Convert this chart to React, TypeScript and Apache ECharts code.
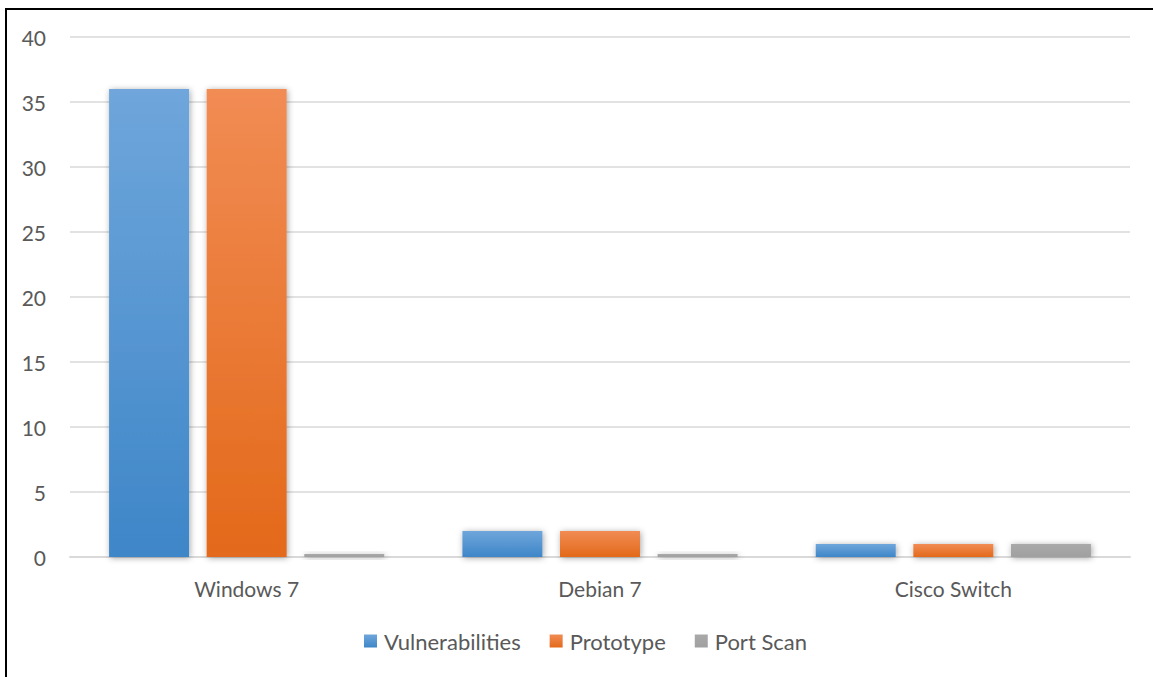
import React, { useEffect, useRef } from "react";
import * as echarts from "echarts";

const categories = ["Windows 7", "Debian 7", "Cisco Switch"];
const vulnerabilities = [36, 2, 1];
const prototype = [36, 2, 1];
const portScan = [0, 0, 1];
const seriesNames = ["Vulnerabilities", "Prototype", "Port Scan"];

const FONT = "Lato, 'Noto Sans', sans-serif";

function grad(top: string, bottom: string) {
  return new echarts.graphic.LinearGradient(0, 0, 0, 1, [
    { offset: 0, color: top },
    { offset: 1, color: bottom },
  ]);
}

export default function App() {
  const ref = useRef<HTMLDivElement>(null);
  useEffect(() => {
    if (!ref.current) return;
    const chart = echarts.init(ref.current, null, { renderer: "svg" });
    const shadow = {
      shadowColor: "rgba(0,0,0,0.35)",
      shadowBlur: 6,
      shadowOffsetX: 1,
      shadowOffsetY: 1,
    };
    chart.setOption({
      animation: false,
      textStyle: { fontFamily: FONT },
      grid: { left: 63, right: 23, top: 27, bottom: 120 },
      legend: {
        bottom: 20,
        left: 352,
        itemWidth: 13,
        itemHeight: 13,
        itemGap: 29,
        icon: "rect",
        textStyle: { fontSize: 22, color: "#595959", fontFamily: FONT, padding: [0, 0, 0, 2] },
        data: seriesNames,
      },
      xAxis: {
        type: "category",
        data: categories,
        axisTick: { show: false },
        axisLine: { lineStyle: { color: "#D9D9D9", width: 2 } },
        axisLabel: { fontSize: 21, color: "#595959", margin: 21, fontFamily: FONT },
      },
      yAxis: {
        type: "value",
        min: 0,
        max: 40,
        interval: 5,
        axisLine: { show: false },
        axisTick: { show: false },
        splitLine: { lineStyle: { color: "#D9D9D9", width: 1.5 } },
        axisLabel: { fontSize: 21, color: "#595959", margin: 24, fontFamily: FONT },
      },
      series: [
        {
          name: seriesNames[0],
          type: "bar",
          data: vulnerabilities,
          barWidth: 80,
          barGap: "22%",
          itemStyle: { color: grad("#6FA6DB", "#3E86C8"), ...shadow },
        },
        {
          name: seriesNames[1],
          type: "bar",
          data: prototype,
          barWidth: 80,
          barGap: "22%",
          itemStyle: { color: grad("#F18C54", "#E3691A"), ...shadow },
        },
        {
          name: seriesNames[2],
          type: "bar",
          data: portScan,
          barWidth: 80,
          barGap: "22%",
          barMinHeight: 3,
          itemStyle: { color: grad("#A9A9A9", "#A0A0A0"), ...shadow },
        },
      ],
    });
    return () => chart.dispose();
  }, []);
  return (
    <div
      style={{
        position: "absolute",
        left: 5,
        top: 8,
        width: 1160,
        height: 680,
        border: "2px solid #000",
        background: "#fff",
        boxSizing: "border-box",
      }}
    >
      <div ref={ref} style={{ width: 1146, height: 667, position: "absolute", left: 0, top: 0 }} />
    </div>
  );
}
